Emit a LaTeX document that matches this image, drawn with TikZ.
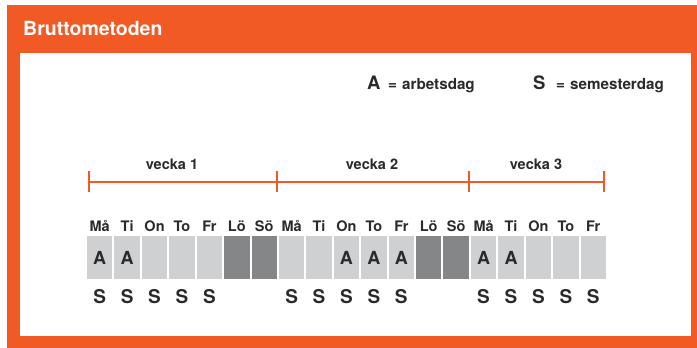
\documentclass[tikz,border=0pt]{standalone}
\usepackage{fontspec}
\setmainfont{TeX Gyre Heros}
\definecolor{orng}{HTML}{F15A24}
\definecolor{lgray}{HTML}{CFD0D2}
\definecolor{dgray}{HTML}{858688}
\definecolor{ink}{HTML}{2A2A2A}
\begin{document}
\begin{tikzpicture}[x=1pt,y=-1pt,
  cell/.style={minimum width=25.4pt, minimum height=43pt, inner sep=0pt,
    font=\bfseries\fontsize{18}{18}\selectfont, text=ink},
  daylbl/.style={anchor=base, inner sep=0pt, text=ink, font=\bfseries\fontsize{14.5}{15}\selectfont},
  slbl/.style={anchor=base, inner sep=0pt, text=ink, font=\bfseries\fontsize{19}{19}\selectfont},
  wklbl/.style={anchor=base, inner sep=0pt, text=ink, font=\bfseries\fontsize{14.5}{15}\selectfont},
  bracket/.style={draw=orng, line width=2pt},
  tickline/.style={draw=orng, line width=2.4pt},
  legbig/.style={anchor=base west, inner sep=0pt, text=ink, font=\bfseries\fontsize{18.5}{19}\selectfont},
  legsmall/.style={anchor=base west, inner sep=0pt, text=ink, font=\bfseries\fontsize{15.2}{16}\selectfont}
]
\useasboundingbox (0,0) rectangle (697,348);
\fill[orng] (7,5) rectangle (697,348);
\fill[white] (20,53) rectangle (691,336);
\node[anchor=base west, inner sep=0pt, text=white, font=\bfseries\fontsize{19.5}{20}\selectfont] (title) at (23,35) {Bruttometoden};

% legend
\node[legbig] (legA) at (367,89) {A};
\node[legsmall] (legAeq) at (388,89) {=};
\node[legsmall] (legAt) at (402,89) {arbetsdag};
\node[legbig] (legS) at (533,89) {S};
\node[legsmall] (legSeq) at (556,89) {=};
\node[legsmall] (legSt) at (570,89) {semesterdag};

% week brackets
\coordinate (t1) at (89,182);
\coordinate (t2) at (277,182);
\coordinate (t3) at (469,182);
\coordinate (t4) at (604,182);
\draw[bracket] (t1) -- (t4);
\foreach \t in {t1,t2,t3,t4}{
  \draw[tickline] (\t) ++(0,-11) -- ++(0,21);
}
\node[wklbl] (w1) at (172,169) {vecka 1};
\node[wklbl] (w2) at (372,169) {vecka 2};
\node[wklbl] (w3) at (536,169) {vecka 3};

% day cells
\foreach \i/\d/\c/\a/\s in {
  0/Må/lgray/A/S, 1/Ti/lgray/A/S, 2/On/lgray/{}/S, 3/To/lgray/{}/S, 4/Fr/lgray/{}/S,
  5/Lö/dgray/{}/{}, 6/Sö/dgray/{}/{},
  7/Må/lgray/{}/S, 8/Ti/lgray/{}/S, 9/On/lgray/A/S, 10/To/lgray/A/S, 11/Fr/lgray/A/S,
  12/Lö/dgray/{}/{}, 13/Sö/dgray/{}/{},
  14/Må/lgray/A/S, 15/Ti/lgray/A/S, 16/On/lgray/{}/S, 17/To/lgray/{}/S, 18/Fr/lgray/{}/S}{
  \pgfmathsetmacro{\cx}{87+27.42*\i+12.7}
  \node[cell, fill=\c] (c\i) at (\cx,257.5) {\a};
  \node[daylbl] (d\i) at (\cx,231) {\d};
  \node[slbl] (s\i) at (\cx,303) {\s};
}
\end{tikzpicture}
\end{document}
